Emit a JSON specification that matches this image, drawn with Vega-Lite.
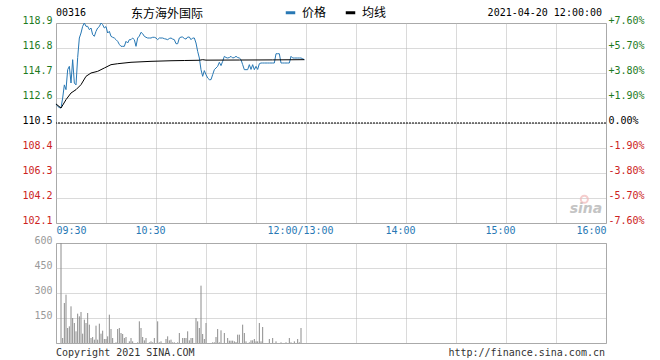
{
  "$schema": "https://vega.github.io/schema/vega-lite/v6.json",
  "padding": {"left": 21, "top": 6, "right": 5, "bottom": 5},
  "background": "#ffffff",
  "bounds": "flush",
  "spacing": 20,
  "config": {
    "font": "DejaVu Sans Mono",
    "view": {"stroke": "#a0a0a0", "strokeWidth": 1},
    "axis": {"labelFont": "DejaVu Sans Mono", "labelFontSize": 10, "domain": false, "ticks": false, "labelOverlap": false, "labelBound": false}
  },
  "datasets": {
    "price": [
      {"m":0,"price":112.1},{"m":1,"price":111.9},{"m":2,"price":111.8},{"m":3,"price":111.76},{"m":4,"price":112.6},{"m":5,"price":113.7},{"m":6,"price":113.3},{"m":7,"price":114.98},{"m":8,"price":115.26},{"m":9,"price":113.86},{"m":10,"price":115.82},{"m":11,"price":113.86},{"m":12,"price":113.7},{"m":13,"price":116.0},{"m":14,"price":117.64},{"m":15,"price":118.06},{"m":16,"price":118.62},{"m":17,"price":118.9},{"m":18,"price":118.62},{"m":19,"price":118.62},{"m":20,"price":118.34},{"m":21,"price":118.48},{"m":22,"price":117.92},{"m":23,"price":117.78},{"m":24,"price":118.2},{"m":25,"price":118.48},{"m":26,"price":118.6},{"m":27,"price":118.9},{"m":28,"price":118.76},{"m":29,"price":118.48},{"m":30,"price":118.6},{"m":31,"price":118.06},{"m":32,"price":118.2},{"m":33,"price":117.78},{"m":34,"price":117.7},{"m":35,"price":117.64},{"m":36,"price":117.5},{"m":37,"price":117.36},{"m":38,"price":117.1},{"m":39,"price":116.94},{"m":40,"price":116.94},{"m":41,"price":116.94},{"m":42,"price":117.36},{"m":43,"price":117.22},{"m":44,"price":117.5},{"m":45,"price":117.5},{"m":46,"price":117.64},{"m":47,"price":117.5},{"m":48,"price":116.94},{"m":49,"price":117.64},{"m":50,"price":117.8},{"m":51,"price":118.12},{"m":52,"price":118.0},{"m":53,"price":117.78},{"m":54,"price":117.7},{"m":55,"price":117.64},{"m":56,"price":117.64},{"m":57,"price":117.64},{"m":58,"price":117.7},{"m":59,"price":117.7},{"m":60,"price":117.64},{"m":61,"price":117.5},{"m":62,"price":117.64},{"m":63,"price":117.64},{"m":64,"price":117.64},{"m":65,"price":117.58},{"m":66,"price":117.55},{"m":67,"price":117.5},{"m":68,"price":117.6},{"m":69,"price":117.64},{"m":70,"price":117.55},{"m":71,"price":117.5},{"m":72,"price":117.16},{"m":73,"price":117.16},{"m":74,"price":117.64},{"m":75,"price":117.72},{"m":76,"price":117.72},{"m":77,"price":117.6},{"m":78,"price":117.55},{"m":79,"price":117.72},{"m":80,"price":117.72},{"m":81,"price":117.5},{"m":82,"price":117.64},{"m":83,"price":117.64},{"m":84,"price":117.22},{"m":85,"price":116.52},{"m":86,"price":115.96},{"m":87,"price":114.98},{"m":88,"price":114.42},{"m":89,"price":114.9},{"m":90,"price":114.56},{"m":91,"price":114.28},{"m":92,"price":114.14},{"m":93,"price":114.14},{"m":94,"price":114.56},{"m":95,"price":114.98},{"m":96,"price":115.12},{"m":97,"price":115.26},{"m":98,"price":115.6},{"m":99,"price":115.32},{"m":100,"price":115.68},{"m":101,"price":116.1},{"m":102,"price":116.0},{"m":103,"price":115.96},{"m":104,"price":116.0},{"m":105,"price":116.1},{"m":106,"price":115.96},{"m":107,"price":116.0},{"m":108,"price":116.1},{"m":109,"price":116.0},{"m":110,"price":115.96},{"m":111,"price":115.82},{"m":112,"price":115.4},{"m":113,"price":114.98},{"m":114,"price":114.98},{"m":115,"price":114.98},{"m":116,"price":115.4},{"m":117,"price":115.0},{"m":118,"price":115.4},{"m":119,"price":114.98},{"m":120,"price":115.26},{"m":121,"price":115.0},{"m":122,"price":115.48},{"m":123,"price":115.54},{"m":124,"price":115.54},{"m":125,"price":115.54},{"m":126,"price":115.54},{"m":127,"price":115.54},{"m":128,"price":115.54},{"m":129,"price":115.54},{"m":130,"price":115.54},{"m":131,"price":115.54},{"m":132,"price":116.32},{"m":133,"price":116.32},{"m":134,"price":116.32},{"m":135,"price":115.54},{"m":136,"price":115.54},{"m":137,"price":115.54},{"m":138,"price":115.54},{"m":139,"price":115.54},{"m":140,"price":115.54},{"m":141,"price":116.1},{"m":142,"price":115.96},{"m":143,"price":115.96},{"m":144,"price":115.96},{"m":145,"price":115.96},{"m":146,"price":115.96},{"m":147,"price":115.96},{"m":148,"price":115.9},{"m":149,"price":115.82}
    ],
    "avg": [
      {"m":0,"avg":112.1},{"m":3,"avg":111.76},{"m":6,"avg":112.46},{"m":9,"avg":113.02},{"m":12,"avg":113.3},{"m":15,"avg":113.72},{"m":18,"avg":114.42},{"m":21,"avg":114.7},{"m":25,"avg":114.84},{"m":29,"avg":115.12},{"m":33,"avg":115.4},{"m":37,"avg":115.48},{"m":45,"avg":115.6},{"m":57,"avg":115.68},{"m":69,"avg":115.73},{"m":77,"avg":115.75},{"m":86,"avg":115.77},{"m":88,"avg":115.82},{"m":90,"avg":115.78},{"m":110,"avg":115.79},{"m":130,"avg":115.8},{"m":149,"avg":115.82}
    ],
    "vol": [
      {"m":3,"vol":600},{"m":4,"vol":30},{"m":5,"vol":240},{"m":6,"vol":290},{"m":7,"vol":90},{"m":8,"vol":100},{"m":9,"vol":220},{"m":10,"vol":150},{"m":11,"vol":120},{"m":12,"vol":70},{"m":13,"vol":176},{"m":14,"vol":160},{"m":15,"vol":186},{"m":16,"vol":56},{"m":17,"vol":140},{"m":18,"vol":120},{"m":19,"vol":180},{"m":20,"vol":110},{"m":21,"vol":30},{"m":22,"vol":36},{"m":23,"vol":20},{"m":24,"vol":104},{"m":25,"vol":20},{"m":26,"vol":116},{"m":27,"vol":56},{"m":28,"vol":74},{"m":29,"vol":24},{"m":30,"vol":24},{"m":31,"vol":40},{"m":32,"vol":170},{"m":33,"vol":84},{"m":34,"vol":30},{"m":36,"vol":4},{"m":37,"vol":84},{"m":38,"vol":90},{"m":39,"vol":60},{"m":40,"vol":54},{"m":41,"vol":30},{"m":42,"vol":36},{"m":44,"vol":10},{"m":45,"vol":30},{"m":46,"vol":10},{"m":49,"vol":4},{"m":50,"vol":130},{"m":51,"vol":90},{"m":52,"vol":36},{"m":53,"vol":16},{"m":54,"vol":30},{"m":56,"vol":4},{"m":57,"vol":10},{"m":58,"vol":4},{"m":59,"vol":30},{"m":61,"vol":130},{"m":62,"vol":4},{"m":63,"vol":10},{"m":66,"vol":24},{"m":67,"vol":40},{"m":68,"vol":16},{"m":69,"vol":20},{"m":70,"vol":4},{"m":71,"vol":4},{"m":73,"vol":4},{"m":74,"vol":60},{"m":76,"vol":30},{"m":77,"vol":30},{"m":78,"vol":30},{"m":79,"vol":70},{"m":80,"vol":16},{"m":81,"vol":30},{"m":82,"vol":30},{"m":84,"vol":150},{"m":85,"vol":130},{"m":86,"vol":90},{"m":87,"vol":344},{"m":88,"vol":54},{"m":89,"vol":24},{"m":90,"vol":120},{"m":94,"vol":4},{"m":95,"vol":4},{"m":96,"vol":36},{"m":97,"vol":84},{"m":98,"vol":4},{"m":99,"vol":76},{"m":101,"vol":60},{"m":103,"vol":30},{"m":104,"vol":14},{"m":105,"vol":14},{"m":106,"vol":14},{"m":107,"vol":10},{"m":108,"vol":6},{"m":109,"vol":50},{"m":110,"vol":50},{"m":112,"vol":110},{"m":113,"vol":60},{"m":114,"vol":10},{"m":116,"vol":4},{"m":117,"vol":16},{"m":118,"vol":16},{"m":119,"vol":24},{"m":120,"vol":10},{"m":121,"vol":10},{"m":122,"vol":120},{"m":123,"vol":10},{"m":124,"vol":96},{"m":128,"vol":24},{"m":130,"vol":30},{"m":132,"vol":10},{"m":135,"vol":4},{"m":138,"vol":4},{"m":140,"vol":30},{"m":141,"vol":4},{"m":143,"vol":10},{"m":145,"vol":24},{"m":146,"vol":4},{"m":147,"vol":90}
    ]
  },
  "vconcat": [
    {
      "width": 550,
      "height": 200,
      "resolve": {"scale": {"y": "shared"}, "axis": {"y": "independent"}},
      "layer": [
        {
          "data": {"name": "price"},
          "mark": {"type": "line", "strokeWidth": 1},
          "encoding": {
            "x": {"field": "m", "type": "quantitative", "scale": {"domain": [0, 330], "nice": false, "zero": false},
              "axis": {"title": null, "values": [0,30,60,90,120,150,180,210,240,270,300,330], "tickCount": 20, "grid": true, "gridColor": "#b4b4b4", "gridDash": [1, 1],
                "labelExpr": "datum.value == 0 ? '09:30' : datum.value == 60 ? '10:30' : datum.value == 150 ? '12:00/13:00' : datum.value == 210 ? '14:00' : datum.value == 270 ? '15:00' : datum.value == 330 ? '16:00' : ''",
                "labelFlush": true, "labelColor": "#2878b4", "labelPadding": 2,
                "labelOffset": {"condition": {"test": "datum.value > 0 && datum.value < 330", "value": -6}, "value": 0}}},
            "y": {"field": "price", "type": "quantitative", "scale": {"domain": [102.1, 118.9], "nice": false, "zero": false},
              "axis": {"title": null, "orient": "left", "values": [102.1,104.2,106.3,108.4,110.5,112.6,114.7,116.8,118.9], "tickCount": 20, "format": ".1f", "grid": true, "gridColor": "#b4b4b4", "gridDash": [1, 1], "labelPadding": 4, "labelBaseline": "alphabetic",
                "labelColor": {"condition": [{"test": "datum.value > 110.6", "value": "#1e7a1e"}, {"test": "datum.value < 110.4", "value": "#cc2222"}], "value": "#000000"}}},
            "color": {"datum": "价格", "scale": {"domain": ["价格", "均线"], "range": ["#2878b4", "#000000"]},
              "legend": {"title": null, "orient": "none", "legendX": 228, "legendY": -17, "direction": "horizontal", "symbolType": "stroke", "symbolStrokeWidth": 3, "symbolSize": 90, "labelFont": "Noto Sans CJK SC", "labelFontSize": 12, "labelOffset": 5, "columnPadding": 12}}
          }
        },
        {
          "data": {"name": "avg"},
          "mark": {"type": "line", "strokeWidth": 1},
          "encoding": {
            "x": {"field": "m", "type": "quantitative"},
            "y": {"field": "avg", "type": "quantitative", "scale": {"domain": [102.1, 118.9], "nice": false, "zero": false},
              "axis": {"title": null, "orient": "right", "values": [102.1,104.2,106.3,108.4,110.5,112.6,114.7,116.8,118.9], "tickCount": 20, "grid": false, "labelPadding": 2, "labelBaseline": "alphabetic",
                "labelExpr": "(abs(datum.value - 110.5) < 0.05 ? ' 0.00' : ((datum.value > 110.5 ? '+' : '-') + format(abs(datum.value - 110.5) / 110.5 * 100, '.2f'))) + '%'",
                "labelColor": {"condition": [{"test": "datum.value > 110.6", "value": "#1e7a1e"}, {"test": "datum.value < 110.4", "value": "#cc2222"}], "value": "#000000"}}},
            "color": {"datum": "均线"}
          }
        },
        {
          "data": {"values": [{}]},
          "mark": {"type": "rule", "color": "#000000", "strokeWidth": 1, "strokeDash": [2, 1]},
          "encoding": {"y": {"datum": 110.5, "scale": {"domain": [102.1, 118.9], "nice": false, "zero": false}, "axis": null}}
        },
        {
          "data": {"values": [{"label": "00316"}]},
          "mark": {"type": "text", "align": "left", "baseline": "alphabetic", "font": "DejaVu Sans Mono", "fontSize": 10, "color": "#000000"},
          "encoding": {"x": {"datum": 0}, "y": {"datum": 119.52, "scale": {"domain": [102.1, 118.9], "nice": false, "zero": false}, "axis": null}, "text": {"field": "label"}}
        },
        {
          "data": {"values": [{"label": "东方海外国际"}]},
          "mark": {"type": "text", "align": "left", "baseline": "alphabetic", "font": "Noto Sans CJK SC", "fontSize": 12, "color": "#000000"},
          "encoding": {"x": {"datum": 45}, "y": {"datum": 119.36, "scale": {"domain": [102.1, 118.9], "nice": false, "zero": false}, "axis": null}, "text": {"field": "label"}}
        },
        {
          "data": {"values": [{"label": "2021-04-20 12:00:00"}]},
          "mark": {"type": "text", "align": "right", "baseline": "alphabetic", "font": "DejaVu Sans Mono", "fontSize": 10, "color": "#000000"},
          "encoding": {"x": {"datum": 327.6}, "y": {"datum": 119.52, "scale": {"domain": [102.1, 118.9], "nice": false, "zero": false}, "axis": null}, "text": {"field": "label"}}
        },
        {
          "data": {"values": [{"label": "sina"}]},
          "mark": {"type": "text", "align": "center", "baseline": "alphabetic", "font": "DejaVu Sans", "fontSize": 14, "fontStyle": "italic", "fontWeight": "bold", "color": "#c4c4c4"},
          "encoding": {"x": {"datum": 318}, "y": {"datum": 102.95, "scale": {"domain": [102.1, 118.9], "nice": false, "zero": false}, "axis": null}, "text": {"field": "label"}}
        },
        {
          "data": {"values": [{}]},
          "mark": {"type": "point", "shape": "circle", "size": 50, "filled": false, "stroke": "#f2b8b8", "strokeWidth": 2},
          "encoding": {"x": {"datum": 317}, "y": {"datum": 104.1, "scale": {"domain": [102.1, 118.9], "nice": false, "zero": false}, "axis": null}}
        }
      ]
    },
    {
      "width": 550,
      "height": 100,
      "layer": [
        {
          "data": {"name": "vol"},
          "mark": {"type": "rule", "color": "#8c8c8c", "strokeWidth": 1},
          "encoding": {
            "x": {"field": "m", "type": "quantitative", "scale": {"domain": [0, 330], "nice": false, "zero": false},
              "axis": {"title": null, "values": [0,30,60,90,120,150,180,210,240,270,300,330], "tickCount": 20, "grid": true, "gridColor": "#b4b4b4", "gridDash": [1, 1], "labels": false}},
            "y": {"field": "vol", "type": "quantitative", "scale": {"domain": [0, 600], "nice": false, "zero": true},
              "axis": {"title": null, "values": [0, 150, 300, 450, 600], "tickCount": 10, "labelExpr": "datum.value == 0 ? '' : format(datum.value, 'd')", "grid": true, "gridColor": "#b4b4b4", "gridDash": [1, 1], "labelPadding": 4, "labelBaseline": "alphabetic", "labelColor": "#999999", "labelOverlap": false, "labelBound": false}},
            "y2": {"datum": 0}
          }
        },
        {
          "data": {"values": [{"label": "Copyright 2021 SINA.COM"}]},
          "mark": {"type": "text", "align": "left", "baseline": "alphabetic", "font": "DejaVu Sans Mono", "fontSize": 10, "color": "#333333"},
          "encoding": {"x": {"datum": 0}, "y": {"datum": -80}, "text": {"field": "label"}}
        },
        {
          "data": {"values": [{"label": "http://finance.sina.com.cn"}]},
          "mark": {"type": "text", "align": "right", "baseline": "alphabetic", "font": "DejaVu Sans Mono", "fontSize": 10, "color": "#333333"},
          "encoding": {"x": {"datum": 329.4}, "y": {"datum": -80}, "text": {"field": "label"}}
        }
      ]
    }
  ]
}
